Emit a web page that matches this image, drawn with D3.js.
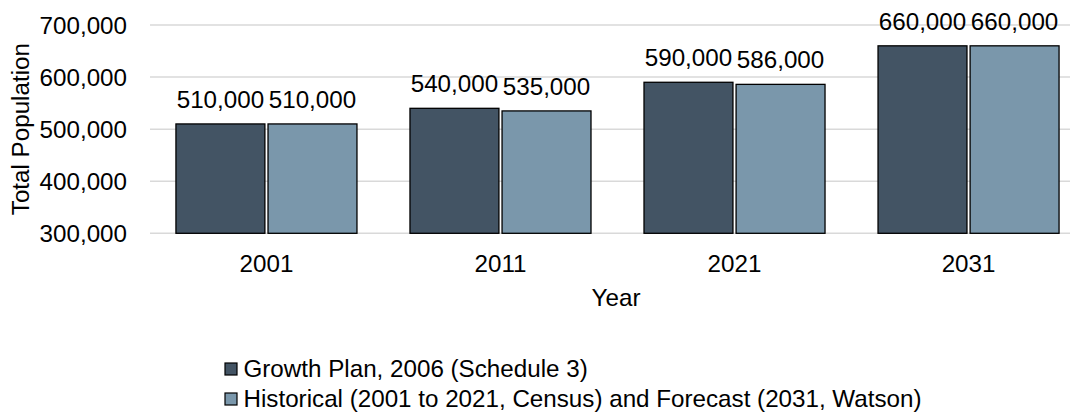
<!DOCTYPE html>
<html>
<head>
<meta charset="utf-8">
<script src="https://cdn.jsdelivr.net/npm/d3@7"></script>
<style>
  html, body { margin: 0; padding: 0; background: #fff; }
  svg { display: block; font-family: Arial, "Liberation Sans", sans-serif; }
</style>
</head>
<body>
<svg id="chart" width="1074" height="414"></svg>
<script>
const years = ["2001", "2011", "2021", "2031"];
const growthPlan = [510000, 540000, 590000, 660000];
const historical = [510000, 535000, 586000, 660000];
const yTicks = [300000, 400000, 500000, 600000, 700000];
const seriesNames = ["Growth Plan, 2006 (Schedule 3)", "Historical (2001 to 2021, Census) and Forecast (2031, Watson)"];
const seriesColors = ["#435464", "#7a97ab"];

const svg = d3.select("#chart");
const fmt = d3.format(",");

const y = d3.scaleLinear().domain([300000, 700000]).range([233.3, 25]);
const x = d3.scaleBand().domain(years).range([149.5, 1085.5]).paddingInner(0.2265).paddingOuter(0.113);
const xs = d3.scaleBand().domain([0, 1]).range([0, x.bandwidth()]).paddingInner(0.034);

const gridLeft = 150, gridRight = 1070;
const FS = 24.2;

// gridlines
svg.append("g").selectAll("line").data(yTicks).join("line")
  .attr("x1", gridLeft).attr("x2", gridRight)
  .attr("y1", d => y(d)).attr("y2", d => y(d))
  .attr("stroke", "#d9d9d9").attr("stroke-width", 1.5);

// y axis labels
const yAxis = d3.axisLeft(y).tickValues(yTicks).tickFormat(fmt).tickSize(0).tickPadding(0);
const yg = svg.append("g").attr("transform", "translate(127,0)").call(yAxis);
yg.select(".domain").remove();
yg.selectAll("text").attr("font-size", FS).attr("fill", "#000").attr("font-family", "Arial, 'Liberation Sans', sans-serif").attr("dy", "0.35em");

// x axis labels
const xAxis = d3.axisBottom(x).tickSize(0).tickPadding(0);
const xg = svg.append("g").attr("transform", "translate(0,254)").call(xAxis);
xg.select(".domain").remove();
xg.selectAll("text").attr("font-size", FS).attr("fill", "#000").attr("font-family", "Arial, 'Liberation Sans', sans-serif").attr("dy", "0.75em");

// bars
const series = [growthPlan, historical];
const data = [];
years.forEach((yr, i) => series.forEach((s, j) => data.push({yr, j, v: s[i]})));

svg.append("g").selectAll("rect").data(data).join("rect")
  .attr("x", d => x(d.yr) + xs(d.j))
  .attr("width", xs.bandwidth())
  .attr("y", d => y(d.v))
  .attr("height", d => y(300000) - y(d.v))
  .attr("fill", d => seriesColors[d.j])
  .attr("stroke", "#000").attr("stroke-width", 1.3);

// value labels
svg.append("g").selectAll("text").data(data).join("text")
  .attr("x", d => x(d.yr) + xs(d.j) + xs.bandwidth() / 2)
  .attr("y", d => y(d.v) - 16)
  .attr("text-anchor", "middle")
  .attr("font-size", FS).attr("fill", "#000")
  .text(d => fmt(d.v));

// axis titles
svg.append("text")
  .attr("transform", "translate(28.5," + ((y(300000) + y(700000)) / 2) + ") rotate(-90)")
  .attr("text-anchor", "middle").attr("font-size", FS).attr("fill", "#000")
  .text("Total Population");

svg.append("text")
  .attr("x", 616).attr("y", 306)
  .attr("text-anchor", "middle").attr("font-size", FS).attr("fill", "#000")
  .text("Year");

// legend
const lg = svg.append("g").selectAll("g").data(seriesNames).join("g")
  .attr("transform", (d, i) => "translate(225," + (363 + i * 30) + ")");
lg.append("rect").attr("width", 12).attr("height", 12)
  .attr("fill", (d, i) => seriesColors[i]).attr("stroke", "#000").attr("stroke-width", 1.2);
lg.append("text").attr("x", 18.5).attr("y", 14)
  .attr("font-size", FS).attr("fill", "#000").text(d => d);
</script>
</body>
</html>
